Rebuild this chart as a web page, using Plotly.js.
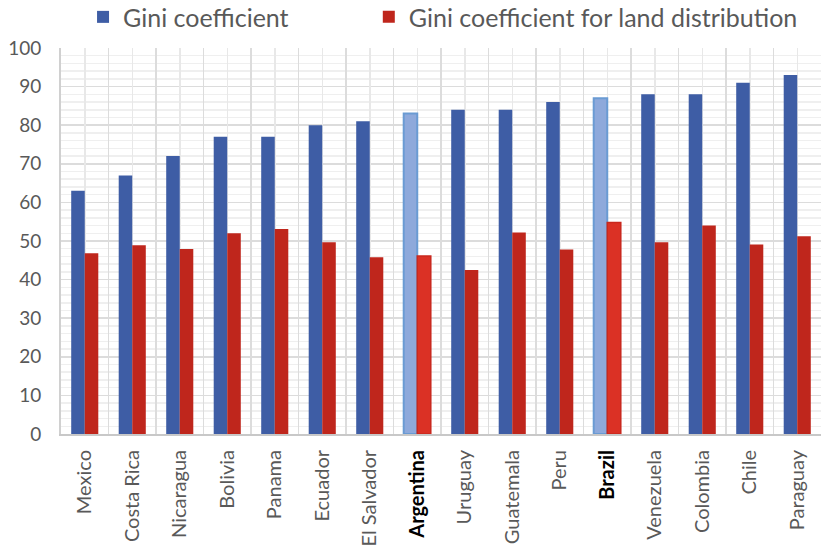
<!DOCTYPE html>
<html>
<head>
<meta charset="utf-8">
<script src="https://cdn.plot.ly/plotly-3.0.1.min.js"></script>
<style>html,body{margin:0;padding:0;background:#fff;}#chart{width:822px;height:547px;}</style>
</head>
<body>
<div id="chart"></div>
<script>
const countries = ['Mexico','Costa Rica','Nicaragua','Bolivia','Panama','Ecuador','El Salvador','Argentina','Uruguay','Guatemala','Peru','Brazil','Venezuela','Colombia','Chile','Paraguay'];
const gini = [63, 67, 72, 77, 77, 80, 81, 83, 84, 84, 86, 87, 88, 88, 91, 93];
const giniLand = [46.8, 48.9, 47.9, 52.0, 53.1, 49.7, 45.8, 46.1, 42.5, 52.2, 47.8, 54.8, 49.7, 54.0, 49.1, 51.2];
const highlighted = ['Argentina', 'Brazil'];
const seriesNames = ['Gini coefficient', 'Gini coefficient for land distribution'];

const FONT = 'Lato, "Open Sans", sans-serif';
const GRAY = '#595959';
const isHi = countries.map(c => highlighted.includes(c));

const blueFill = isHi.map(h => h ? '#8EA9DB' : '#3E5DA5');
const blueLine = isHi.map(h => h ? '#6A9BD3' : '#3E5DA5');
const blueLW = isHi.map(h => h ? 2 : 0);
const redFill = isHi.map(h => h ? '#DB3125' : '#BF261C');
const redLine = isHi.map(h => h ? '#C9281E' : '#BF261C');
const redLW = isHi.map(h => h ? 1.5 : 0);

const tickText = countries.map((c, i) => isHi[i] ? '<b><span style="color:#000">' + c + '</span></b>' : c);

const traces = [
  {type: 'bar', name: seriesNames[0], x: countries, y: gini, legend: 'legend',
   marker: {color: blueFill, line: {color: blueLine, width: blueLW}}},
  {type: 'bar', name: seriesNames[1], x: countries, y: giniLand, legend: 'legend2',
   marker: {color: redFill, line: {color: redLine, width: redLW}}},
  {type: 'scatter', x: [0], y: [0], xaxis: 'x2', showlegend: false, hoverinfo: 'skip',
   mode: 'markers', marker: {opacity: 0}}
];

const legendCommon = {orientation: 'h', y: 1.08, yanchor: 'middle', xanchor: 'left',
                      font: {family: FONT, size: 25, color: GRAY}, itemwidth: 30, bgcolor: 'rgba(0,0,0,0)'};

const layout = {
  width: 822, height: 547,
  margin: {l: 61, r: 1, t: 48, b: 113, pad: 0, autoexpand: false},
  paper_bgcolor: '#fff', plot_bgcolor: '#fff',
  font: {family: FONT, color: GRAY, size: 19},
  barmode: 'group', bargap: 0.43, bargroupgap: 0,
  showlegend: true,
  legend: Object.assign({}, legendCommon, {x: 0.029}),
  legend2: Object.assign({}, legendCommon, {x: 0.405}),
  xaxis: {type: 'category', categoryorder: 'array', categoryarray: countries,
          tickvals: countries, ticktext: tickText, tickangle: -90, automargin: false,
          tickson: 'boundaries', ticks: '', showgrid: true, gridcolor: '#DCDCDC', gridwidth: 1.5,
          showline: true, linecolor: '#C8C8C8', linewidth: 2, ticklabelstandoff: 6,
          tickfont: {family: FONT, size: 20, color: GRAY}, range: [-0.5, 15.5], fixedrange: true},
  xaxis2: {overlaying: 'x', range: [-0.5, 15.5], dtick: 1, tick0: 0, showgrid: true,
           gridcolor: '#E8E8E8', gridwidth: 1.5, showticklabels: false, ticks: '',
           zeroline: false, showline: false, layer: 'below traces'},
  yaxis: {range: [0, 100], dtick: 10, tick0: 0, showgrid: true, gridcolor: '#DCDCDC', gridwidth: 1.5,
          minor: {dtick: 2, showgrid: true, gridcolor: '#EFEFEF', gridwidth: 1.5}, automargin: false,
          showline: true, linecolor: '#D0D0D0', linewidth: 2, zeroline: false, ticks: '',
          ticklabelstandoff: 14, tickfont: {family: FONT, size: 19, color: GRAY}}
};

Plotly.newPlot('chart', traces, layout, {displayModeBar: false, staticPlot: true});
</script>
</body>
</html>
